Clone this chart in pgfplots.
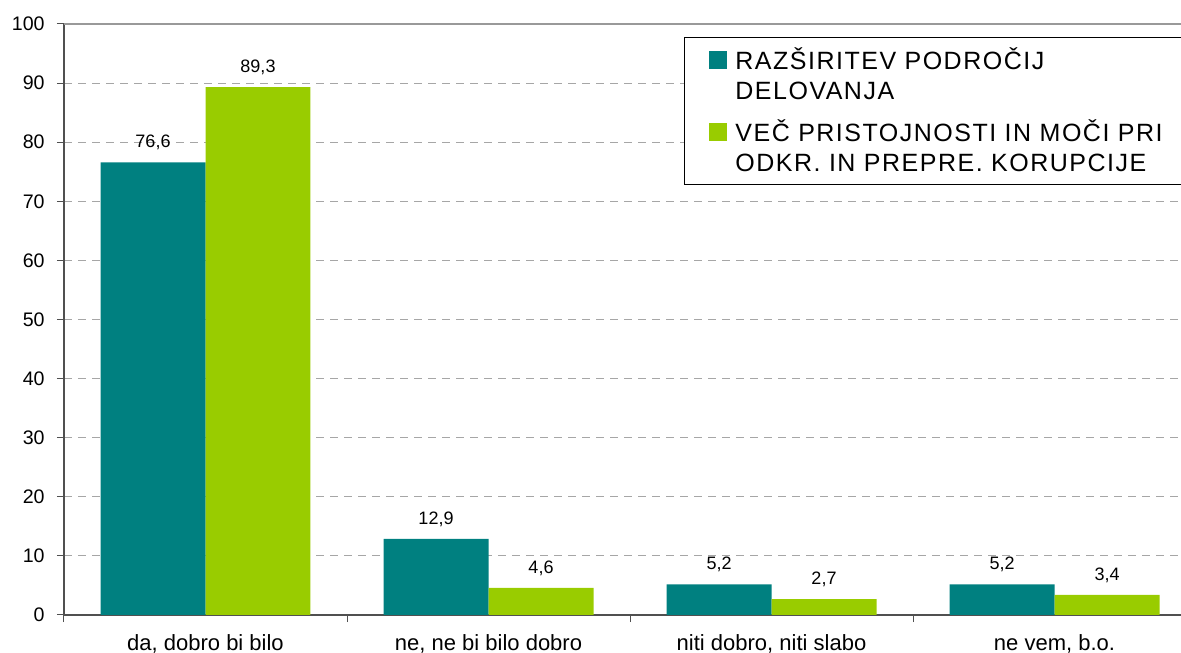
\documentclass[border=0pt]{standalone}
\usepackage{fontspec}
\setmainfont{Liberation Sans}
\newfontfamily\legendfont[LetterSpace=6]{Liberation Sans}
\usepackage{pgfplots}
\pgfplotsset{compat=1.18}

\definecolor{barteal}{RGB}{0,128,128}
\definecolor{barlime}{RGB}{153,204,0}
\definecolor{axisgray}{RGB}{80,80,80}

\begin{document}
\begin{tikzpicture}
\begin{axis}[
    name=ax,
    scale only axis,
    width=558.5pt, height=295.5pt,
    ybar, ybar=0pt, bar width=0.371,
    xmin=-0.5, xmax=3.447,
    ymin=0, ymax=100,
    axis x line*=bottom, axis y line*=left,
    axis line style={draw=axisgray, line width=1pt},
    xtick={0,1,2,3},
    xticklabels={{da, dobro bi bilo},{ne, ne bi bilo dobro},{niti dobro, niti slabo},{ne vem, b.o.}},
    minor xtick={-0.5,0.5,1.5,2.5},
    major x tick style={draw=none},
    minor x tick style={draw=axisgray, line width=0.5pt},
    ytick={0,10,...,100},
    y tick style={draw=axisgray, line width=0.5pt},
    tick align=outside,
    major tick length=3.5pt, minor tick length=3.5pt,
    ymajorgrids,
    major grid style={draw=gray!70, line width=0.5pt, dash pattern=on 4pt off 3pt},
    extra y ticks={100}, extra y tick labels={},
    extra y tick style={major grid style={solid, draw=gray!80, line width=1pt}},
    /pgf/number format/assume math mode=true,
    yticklabel style={font=\fontsize{9.8}{11}\selectfont, anchor=east, inner sep=0pt, xshift=-6pt},
    xticklabel style={font=\fontsize{11}{13}\selectfont, anchor=base, inner sep=0pt, yshift=-14pt},
    nodes near coords,
    nodes near coords style={font=\fontsize{9}{10}\selectfont, black, inner sep=0pt, anchor=south, yshift=6pt,
      /pgf/number format/.cd, fixed, fixed zerofill, precision=1, use comma},
    % text boxes sit on their last line, so the square is lifted to the first one
    legend image code/.code={\fill[#1] (0pt,15pt) rectangle (9pt,24pt);},
    legend style={at={(0.555,0.978)}, anchor=north west, draw=black, line width=0.5pt,
      font=\legendfont\fontsize{12.5}{15}\selectfont, inner xsep=12.5pt, inner ysep=5pt,
      nodes={inner sep=0pt}, row sep=8.5pt,
      cells={anchor=base west},
      /tikz/every odd column/.append style={column sep=4pt}},
]
\addplot[fill=barteal, draw=none] coordinates {(0,76.6) (1,12.9) (2,5.2) (3,5.2)};
\addlegendentry{\parbox[b]{215pt}{RAZŠIRITEV PODROČIJ\\DELOVANJA}}
\addplot[fill=barlime, draw=none] coordinates {(0,89.3) (1,4.6) (2,2.7) (3,3.4)};
\addlegendentry{\parbox[b]{215pt}{VEČ PRISTOJNOSTI IN MOČI PRI\\ODKR. IN PREPRE. KORUPCIJE}}
\end{axis}
\pgfresetboundingbox
\path ([xshift=-32pt,yshift=-18.5pt]ax.south west) rectangle ([yshift=12pt]ax.north east);
\end{tikzpicture}
\end{document}
